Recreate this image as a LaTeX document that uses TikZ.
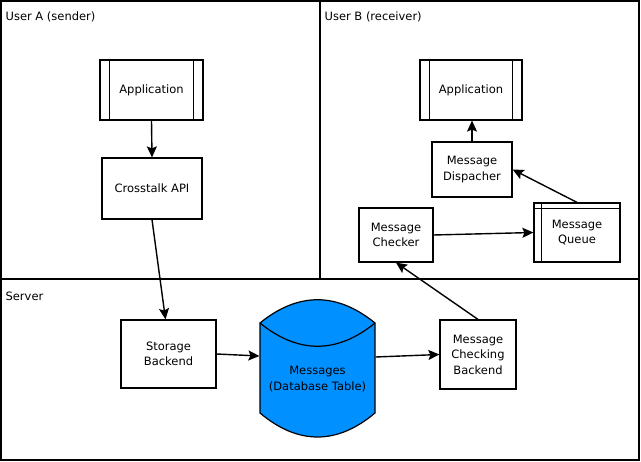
\documentclass[tikz,border=0pt]{standalone}
\usepackage{fontspec}
\setmainfont{DejaVu Sans}
\usepackage{tikz}
\usetikzlibrary{arrows.meta,calc,positioning}
\definecolor{dbblue}{RGB}{0,144,255}

\begin{document}
\begin{tikzpicture}[x=1pt,y=-1pt,line width=1.2pt,
  font=\fontsize{11.5}{15.5}\selectfont,
  box/.style={draw,rectangle,inner sep=0pt,align=center},
  flow/.style={-{Stealth[length=11pt,width=10pt,inset=2pt]},line width=1.4pt},
  zone/.style={anchor=base west,inner sep=0pt}]
\useasboundingbox (0,0) rectangle (641,462);
% zones
\draw (1,1) rectangle (639,460);
\draw (320,1) -- (320,279);
\draw (1,279) -- (639,279);
\node[zone] (zonea) at (5,21) {User A (sender)};
\node[zone] (zoneb) at (324,21) {User B (receiver)};
\node[zone] (zones) at (5,301) {Server};
% user A
\node[box,minimum width=103pt,minimum height=60pt] (appa) at (151.5,90) {Application};
\draw ([xshift=10pt]appa.north west) -- ([xshift=10pt]appa.south west);
\draw ([xshift=-10pt]appa.north east) -- ([xshift=-10pt]appa.south east);
\node[box,minimum width=100pt,minimum height=61pt] (api) at (152,188.5) {Crosstalk API};
% server
\node[box,minimum width=95pt,minimum height=68pt] (sb) at (168.5,354) {Storage\\Backend};
\draw[fill=dbblue] (260,323) .. controls (298,292) and (337,292) .. (375,323)
  -- (375,413) .. controls (337,445) and (298,445) .. (260,413) -- cycle;
\draw (260,323) .. controls (298,354) and (337,354) .. (375,323);
\node[inner sep=0pt,align=center,minimum width=115pt,minimum height=90pt] (db) at (317.5,379) {Messages\\(Database Table)};
\node[box,minimum width=76pt,minimum height=69pt] (mcb) at (478,354.5) {Message\\Checking\\Backend};
% user B
\node[box,minimum width=102pt,minimum height=60pt] (appb) at (471,90) {Application};
\draw ([xshift=10pt]appb.north west) -- ([xshift=10pt]appb.south west);
\draw ([xshift=-10pt]appb.north east) -- ([xshift=-10pt]appb.south east);
\node[box,minimum width=80pt,minimum height=55pt] (md) at (472,169.5) {Message\\Dispacher};
\node[box,minimum width=74pt,minimum height=54pt] (mc) at (396,235) {Message\\Checker};
\node[box,minimum width=86pt,minimum height=59pt] (mq) at (577,232.5) {Message\\Queue};
\draw ([xshift=8pt]mq.north west) -- ([xshift=8pt]mq.south west);
\draw ([yshift=-6pt]mq.north west) -- ([yshift=-6pt]mq.north east);
% connectors
\draw[flow] (appa.south) -- (api.north);
\draw[flow] (api.south) -- ([xshift=-3pt]sb.north);
\draw[flow] (sb.east) -- ([yshift=23pt]db.west);
\draw[flow] ([yshift=22pt]db.east) -- (mcb.west);
\draw[flow] (mcb.north) -- (mc.south);
\draw[flow] (mc.east) -- (mq.west);
\draw[flow] (mq.north) -- (md.east);
\draw[flow] (md.north) -- ([xshift=1pt]appb.south);
\end{tikzpicture}
\end{document}
